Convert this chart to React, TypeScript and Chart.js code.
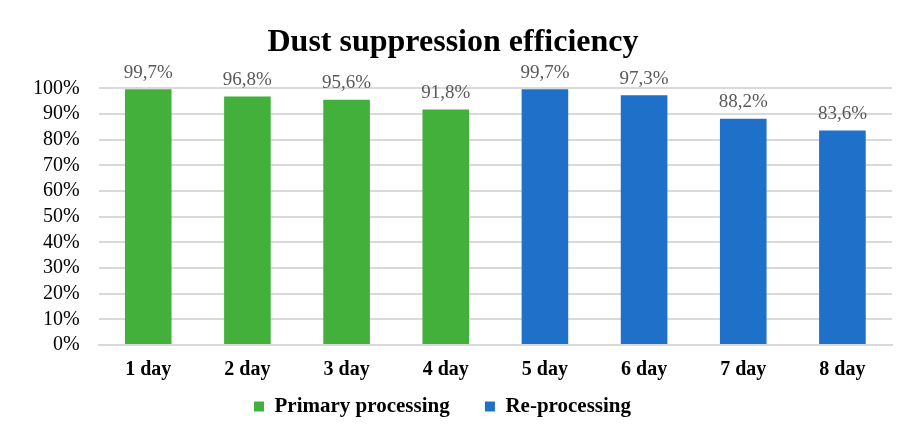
import React, { useEffect, useRef } from "react";
import { Chart, registerables } from "chart.js";

Chart.register(...registerables);

const categories = ["1 day", "2 day", "3 day", "4 day", "5 day", "6 day", "7 day", "8 day"];
const primaryValues = [99.7, 96.8, 95.6, 91.8, null, null, null, null];
const reprocessingValues = [null, null, null, null, 99.7, 97.3, 88.2, 83.6];
const seriesNames = ["Primary processing", "Re-processing"];
const titleText = "Dust suppression efficiency";

const SERIF = "'Liberation Serif', 'Times New Roman', serif";

const labelPlugin = {
  id: "valueLabels",
  afterDatasetsDraw(chart: any) {
    const ctx = chart.ctx;
    ctx.save();
    ctx.font = `19px ${SERIF}`;
    ctx.fillStyle = "#595959";
    ctx.textAlign = "center";
    ctx.textBaseline = "bottom";
    chart.data.datasets.forEach((ds: any, di: number) => {
      const meta = chart.getDatasetMeta(di);
      meta.data.forEach((el: any, i: number) => {
        const v = ds.data[i];
        if (v == null) return;
        ctx.fillText(v.toFixed(1).replace(".", ",") + "%", el.x, el.y - 7);
      });
    });
    ctx.restore();
  },
};

export default function App() {
  const ref = useRef<HTMLCanvasElement>(null);
  useEffect(() => {
    document.body.style.margin = "0";
    const defaultGen = (Chart as any).defaults.plugins.legend.labels.generateLabels;
    const chart = new Chart(ref.current!, {
      type: "bar",
      data: {
        labels: categories,
        datasets: [
          {
            label: seriesNames[0],
            data: primaryValues as any,
            backgroundColor: "#42B03A",
            grouped: false,
            barPercentage: 0.47,
            categoryPercentage: 1,
          },
          {
            label: seriesNames[1],
            data: reprocessingValues as any,
            backgroundColor: "#1E70C8",
            grouped: false,
            barPercentage: 0.47,
            categoryPercentage: 1,
          },
        ],
      },
      options: {
        animation: false,
        responsive: false,
        layout: { padding: { left: 14, right: 20, top: 0, bottom: 1 } },
        plugins: {
          title: {
            display: true,
            text: titleText,
            color: "#000",
            font: { family: SERIF, size: 32, weight: "bold" },
            padding: { top: 24, bottom: 26 },
          },
          legend: {
            position: "bottom",
            labels: {
              color: "#000",
              font: { family: SERIF, size: 21, weight: "bold" },
              boxWidth: 10,
              boxHeight: 10,
              padding: 9,
              generateLabels: (c: any) => {
                const items = defaultGen(c);
                return items.map((it: any, i: number) => ({
                  ...it,
                  text: i < items.length - 1 ? it.text + "     " : it.text + "    ",
                }));
              },
            },
          },
          tooltip: { enabled: false },
        },
        scales: {
          x: {
            grid: { display: false },
            border: { color: "#d9d9d9", width: 2 },
            ticks: {
              color: "#000",
              font: { family: SERIF, size: 20, weight: "bold" },
              padding: 5,
            },
          },
          y: {
            min: 0,
            max: 100,
            grid: { color: "#d9d9d9", lineWidth: 2, drawTicks: false },
            border: { display: false },
            ticks: {
              stepSize: 10,
              autoSkip: false,
              color: "#000",
              padding: 19,
              font: { family: SERIF, size: 20 },
              callback: (v: any) => v + "%",
            },
          },
        },
      },
      plugins: [labelPlugin],
    });
    return () => chart.destroy();
  }, []);
  return <canvas ref={ref} width={912} height={428} style={{ display: "block" }} />;
}
